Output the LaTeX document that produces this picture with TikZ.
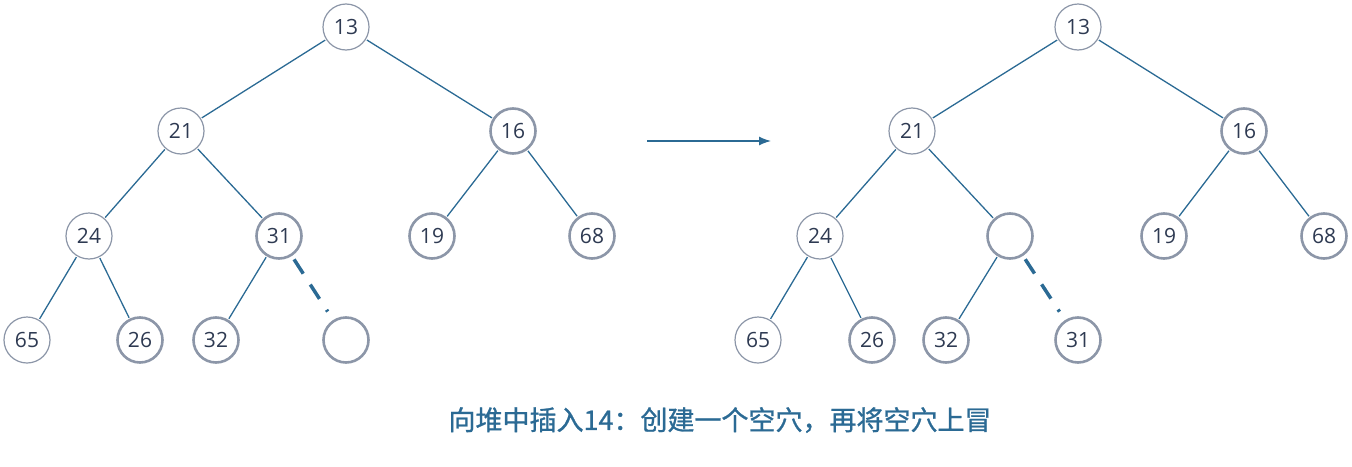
\documentclass[tikz,border=0pt]{standalone}
\usetikzlibrary{arrows.meta}
\usepackage{fontspec}
\setmainfont{Open Sans}
\newfontfamily\cjk[FakeBold=1]{Noto Sans CJK SC}
\definecolor{edge}{HTML}{2B6A94}
\definecolor{ring}{HTML}{8C96A8}
\definecolor{txt}{HTML}{2E3A52}
\begin{document}
\begin{tikzpicture}[x=1pt,y=-1pt,
  thin/.style={circle,draw=ring,line width=1.2pt,minimum size=46pt,inner sep=0pt,fill=white,text=txt,font=\fontsize{21}{21}\selectfont},
  thick/.style={thin,line width=2.6pt,minimum size=45pt},
  ed/.style={draw=edge,line width=1.3pt,shorten <=1pt,shorten >=1pt},
  dsh/.style={draw=edge,line width=3.5pt,dash pattern=on 17pt off 13pt}]
\path[use as bounding box] (0,0) rectangle (1352,466);
% left tree
\node[thin] (a1) at (346,27) {13};
\node[thin] (a2) at (181,131) {21};
\node[thick] (a3) at (513,131) {16};
\node[thin] (a4) at (89,236) {24};
\node[thick] (a5) at (279,236) {31};
\node[thick] (a6) at (432,236) {19};
\node[thick] (a7) at (592,236) {68};
\node[thin] (a8) at (27,340) {65};
\node[thick] (a9) at (140,340) {26};
\node[thick] (a10) at (216,340) {32};
\node[thick] (a11) at (346,340) {};
\draw[ed] (a1)--(a2); \draw[ed] (a1)--(a3);
\draw[ed] (a2)--(a4); \draw[ed] (a2)--(a5);
\draw[ed] (a3)--(a6); \draw[ed] (a3)--(a7);
\draw[ed] (a4)--(a8); \draw[ed] (a4)--(a9);
\draw[ed] (a5)--(a10);
\draw[dsh,shorten <=4pt,shorten >=10pt] (a5)--(a11);
% arrow
\coordinate (p1) at (647,141); \coordinate (p2) at (771,141);
\draw[draw=edge,line width=1.3pt,-{Latex[length=12pt,width=9pt]}] (p1)--(p2);
% right tree
\node[thin] (b1) at (1078,27) {13};
\node[thin] (b2) at (912,131) {21};
\node[thick] (b3) at (1244,131) {16};
\node[thin] (b4) at (820,236) {24};
\node[thick] (b5) at (1010,236) {};
\node[thick] (b6) at (1164,236) {19};
\node[thick] (b7) at (1324,236) {68};
\node[thin] (b8) at (758,340) {65};
\node[thick] (b9) at (872,340) {26};
\node[thick] (b10) at (946,340) {32};
\node[thick] (b11) at (1078,340) {31};
\draw[ed] (b1)--(b2); \draw[ed] (b1)--(b3);
\draw[ed] (b2)--(b4); \draw[ed] (b2)--(b5);
\draw[ed] (b3)--(b6); \draw[ed] (b3)--(b7);
\draw[ed] (b4)--(b8); \draw[ed] (b4)--(b9);
\draw[ed] (b5)--(b10);
\draw[dsh,shorten <=4pt,shorten >=10pt] (b5)--(b11);
\node[text=edge,font=\cjk\fontsize{27}{27}\selectfont] (cap) at (720,420) {向堆中插入14：创建一个空穴，再将空穴上冒};
\end{tikzpicture}
\end{document}
